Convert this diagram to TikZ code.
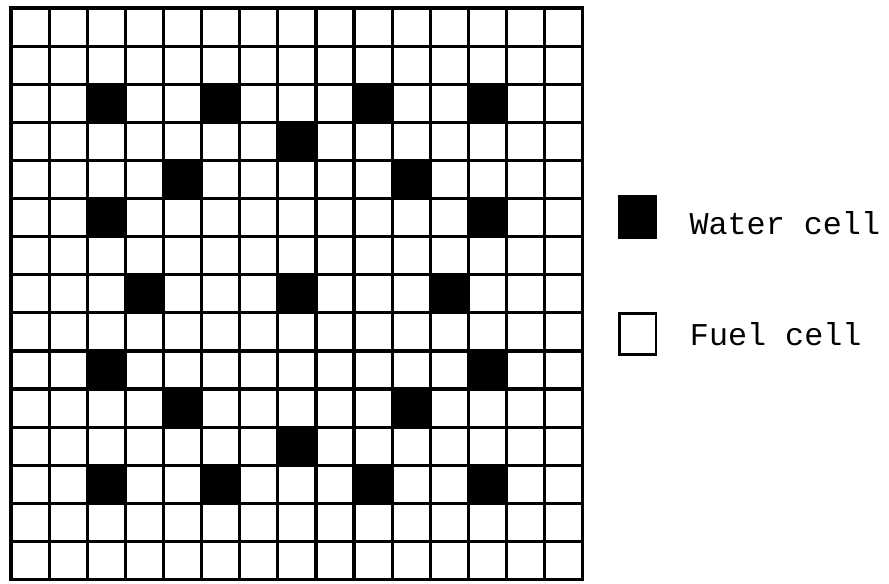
\documentclass[tikz,border=0pt]{standalone}
\usepackage{fontspec}
\setmonofont{Liberation Mono}
\usetikzlibrary{positioning}

\begin{document}
\begin{tikzpicture}
        [
            cell/.style = {line width = 2.4pt, line cap = rect},
            water/.style = {fill = black},
            key/.style = {draw, line width = 2pt, minimum width = 0.95cm, minimum height = 1.08cm, inner sep = 0pt},
            keytext/.style = {font = \ttfamily\fontsize{23.7}{28}\selectfont, inner sep = 0pt}
        ]
        \useasboundingbox (-0.29,0.21) rectangle (23.04,-15.09);

        % water cells (column/row, counted from the top left)
        \foreach \c/\r in {2/2, 5/2, 9/2, 12/2, 7/3, 4/4, 10/4, 2/5, 12/5,
                           3/7, 7/7, 11/7, 2/9, 12/9, 4/10, 10/10, 7/11,
                           2/12, 5/12, 9/12, 12/12}
            \fill[water] (\c,-\r) rectangle ++(1,-1);

        % lattice
        \draw[cell] (0,-15) grid (15,0);

        % legend
        \node[key, water] (water) at (16.44,-5.49) {};
        \node[keytext, right = 0.85cm of water, yshift = -0.15cm] (waterlabel) {Water cell};
        \node[key] (fuel) at (16.45,-8.56) {};
        \node[keytext, right = 0.85cm of fuel] (fuellabel) {Fuel cell};
\end{tikzpicture}
\end{document}
